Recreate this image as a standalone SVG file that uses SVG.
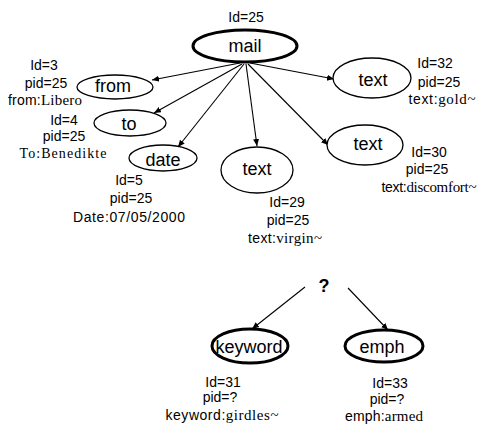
<svg xmlns="http://www.w3.org/2000/svg" width="481" height="425" viewBox="0 0 481 425">
<style>
.n{fill:#fff;stroke:#000;stroke-width:1.3}
.b{fill:#fff;stroke:#000;stroke-width:3}
.t{font-family:"Liberation Sans",Arial,sans-serif;font-size:18px;text-anchor:middle;fill:#000}
.l{font-family:"Liberation Sans",Arial,sans-serif;font-size:14px;text-anchor:middle;fill:#000}
.s{font-family:"Liberation Serif","Times New Roman",serif}
.c line{stroke:#000;stroke-width:1.1;marker-end:url(#ah)}
</style>
<defs>
<marker id="ah" markerUnits="userSpaceOnUse" markerWidth="8" markerHeight="8" refX="7" refY="3" orient="auto">
<path d="M0,0 L7,3 L0,6 Z" fill="#000"/>
</marker>
</defs>
<rect width="481" height="425" fill="#fff"/>
<g class="c" id="connectors">
<line x1="240" y1="63" x2="152" y2="80"/>
<line x1="242" y1="64" x2="154" y2="113"/>
<line x1="244" y1="64" x2="178" y2="147"/>
<line x1="246" y1="64" x2="257" y2="146"/>
<line x1="248" y1="64" x2="328" y2="145"/>
<line x1="250" y1="63" x2="334" y2="79"/>
<line x1="305" y1="287" x2="252" y2="329"/>
<line x1="348" y1="288" x2="388" y2="330"/>
</g>
<g id="mail">
<ellipse class="b" cx="245" cy="46" rx="52" ry="16"/>
<text class="t" x="245" y="52">mail</text>
<text class="l" x="246" y="22">Id=25</text>
</g>
<g id="from">
<ellipse class="n" cx="115" cy="87" rx="38" ry="12"/>
<text class="t" x="113" y="92">from</text>
<text class="l" x="44" y="70">Id=3</text>
<text class="l" x="46" y="88">pid=25</text>
<text class="l" x="45" y="105" textLength="74">from:<tspan class="s" font-size="15">Libero</tspan></text>
</g>
<g id="to">
<ellipse class="n" cx="130" cy="123" rx="36" ry="13"/>
<text class="t" x="129" y="130">to</text>
<text class="l" x="64" y="125">Id=4</text>
<text class="l" x="64" y="141">pid=25</text>
<text class="l s" x="63" y="158" font-size="15" textLength="87">To:Benedikte</text>
</g>
<g id="date">
<ellipse class="n" cx="163" cy="158" rx="34" ry="13"/>
<text class="t" x="163" y="166">date</text>
<text class="l" x="129" y="185">Id=5</text>
<text class="l" x="131" y="203">pid=25</text>
<text class="l" x="129" y="222" textLength="112">Date:07/05/2000</text>
</g>
<g id="text29">
<ellipse class="n" cx="257" cy="170" rx="36" ry="23"/>
<text class="t" x="257" y="175">text</text>
<text class="l" x="287" y="207">Id=29</text>
<text class="l" x="288" y="225">pid=25</text>
<text class="l" x="285" y="243" textLength="74">text:<tspan class="s" font-size="15">virgin~</tspan></text>
</g>
<g id="text32">
<ellipse class="n" cx="372" cy="78" rx="39" ry="20"/>
<text class="t" x="373" y="86">text</text>
<text class="l" x="435" y="68">Id=32</text>
<text class="l" x="439" y="87">pid=25</text>
<text class="l" x="442" y="104" textLength="67">text:<tspan class="s" font-size="15">gold~</tspan></text>
</g>
<g id="text30">
<ellipse class="n" cx="365" cy="145" rx="38" ry="20"/>
<text class="t" x="368" y="150">text</text>
<text class="l" x="429" y="157">Id=30</text>
<text class="l" x="427" y="174">pid=25</text>
<text class="l" x="429" y="192" textLength="95">text:<tspan class="s" font-size="15">discomfort~</tspan></text>
</g>
<g id="unknown">
<text class="t" x="324" y="292" font-weight="bold">?</text>
</g>
<g id="keyword">
<ellipse class="b" cx="250" cy="346" rx="38" ry="17"/>
<text class="t" x="249" y="353" font-size="19">keyword</text>
<text class="l" x="223" y="387">Id=31</text>
<text class="l" x="220" y="402">pid=?</text>
<text class="l" x="222" y="420" textLength="113">keyword:<tspan class="s" font-size="15">girdles~</tspan></text>
</g>
<g id="emph">
<ellipse class="b" cx="384" cy="346" rx="39" ry="16"/>
<text class="t" x="382" y="353">emph</text>
<text class="l" x="390" y="388">Id=33</text>
<text class="l" x="387" y="404">pid=?</text>
<text class="l" x="384" y="421" textLength="78">emph:<tspan class="s" font-size="15">armed</tspan></text>
</g>
</svg>
